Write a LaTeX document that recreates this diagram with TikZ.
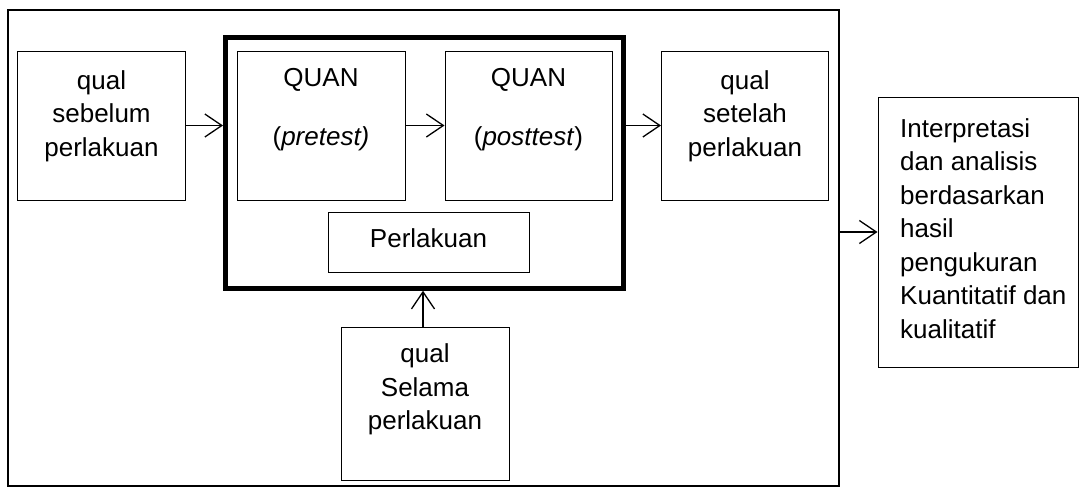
\documentclass[tikz,border=0pt]{standalone}
\usepackage{fontspec}
\setmainfont{Liberation Sans}
\usetikzlibrary{arrows.meta}
\begin{document}
\begin{tikzpicture}[x=1pt,y=-1pt,
  box/.style={draw=black,line width=1pt,inner sep=0pt},
  txt/.style={align=center,inner sep=0pt,font=\fontsize{26}{33.5}\selectfont},
  arr/.style={line width=1.3pt,-{Straight Barb[length=17pt,width=23pt]}}]
\useasboundingbox (0,0) rectangle (1079,488);
\node[draw=black,line width=2pt,inner sep=0pt,minimum width=831pt,minimum height=476pt] (outer) at (423.5,248) {};
\node[draw=black,line width=5pt,inner sep=0pt,minimum width=397.5pt,minimum height=250.5pt] (thick) at (424.25,163) {};
\node[box,minimum width=168pt,minimum height=149pt] (b1) at (101.5,125.5) {};
\node[box,minimum width=168pt,minimum height=149pt] (pre) at (321,125.5) {};
\node[box,minimum width=167pt,minimum height=149pt] (post) at (528.5,125.5) {};
\node[box,minimum width=167pt,minimum height=149pt] (set) at (745,125.5) {};
\node[box,minimum width=201pt,minimum height=60pt] (perl) at (428.5,242) {};
\node[box,minimum width=168pt,minimum height=153pt] (sel) at (425,403.5) {};
\node[box,minimum width=200pt,minimum height=270pt] (int) at (978,232) {};
\node[txt] (tb1) at ([yshift=9.25pt]b1.center) {qual\\sebelum\\perlakuan};
\node[txt] (tpre) at ([yshift=15.5pt]pre.center) {QUAN\\[25.5pt](\textit{pretest)}};
\node[txt] (tpost) at ([yshift=15.5pt]post.center) {QUAN\\[25.5pt](\textit{posttest})};
\node[txt] (tset) at ([yshift=9.25pt]set.center) {qual\\setelah\\perlakuan};
\node[txt] (tperl) at ([yshift=3.5pt]perl.center) {Perlakuan};
\node[txt] (tsel) at ([yshift=13.75pt]sel.center) {qual\\Selama\\perlakuan};
\node[txt,align=left,anchor=north west] (tint) at (900,118.4) {Interpretasi\\dan analisis\\berdasarkan\\hasil\\pengukuran\\Kuantitatif dan\\kualitatif};
\draw[arr] (b1.east) -- (b1.east -| thick.west);
\draw[arr] (pre.east) -- (post.west);
\draw[arr] (thick.east |- set.west) -- (set.west);
\draw[arr] (int.west -| outer.east) -- (int.west);
\draw[arr] ([xshift=-2pt]sel.north) -- ([xshift=-2pt]sel.north |- thick.south);
\end{tikzpicture}
\end{document}
